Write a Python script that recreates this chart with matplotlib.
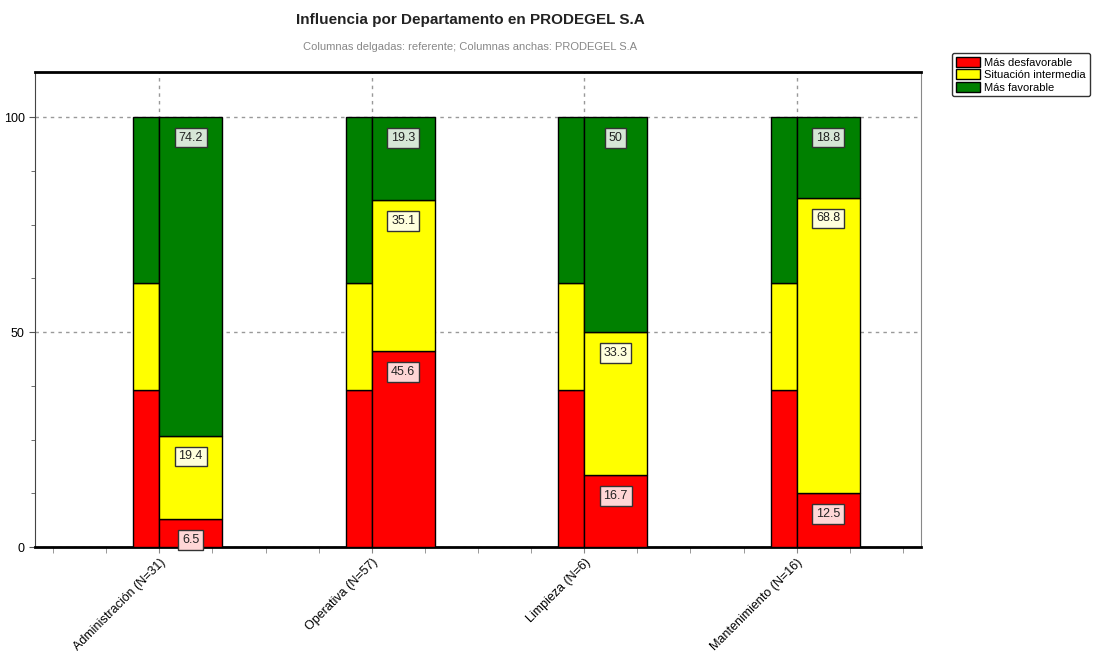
import numpy as np
import matplotlib.pyplot as plt
from matplotlib.ticker import MultipleLocator

plt.rcParams['font.family'] = ['Liberation Sans', 'DejaVu Sans']

departamentos = ['Administración (N=31)', 'Operativa (N=57)', 'Limpieza (N=6)', 'Mantenimiento (N=16)']
niveles = ['Más desfavorable', 'Situación intermedia', 'Más favorable']
colores = ['#FF0000', '#FFFF00', '#008000']
colores_etiqueta = ['#FFD6D6', '#FFFFDC', '#D6E6D6']

# columnas delgadas: referente (igual para todos)
referente = [36.5, 24.8, 38.7]
# columnas anchas: PRODEGEL S.A
desfavorable = [6.5, 45.6, 16.7, 12.5]
intermedia = [19.4, 35.1, 33.3, 68.8]
favorable = [74.2, 19.3, 50.0, 18.8]

fig = plt.figure(figsize=(10.94, 6.54), dpi=100)
ax = fig.add_axes([35 / 1094, 1 - 547 / 654, (921 - 35) / 1094, (547 - 72) / 654])

x = np.arange(len(departamentos))
w_thin = 0.122
w_wide = 0.296

# referente
bottom = np.zeros(len(x))
for i, v in enumerate(referente):
    vals = np.full(len(x), v)
    ax.bar(x - w_thin / 2, vals, w_thin, bottom=bottom, color=colores[i],
           edgecolor='black', linewidth=1, zorder=3)
    bottom += vals

# PRODEGEL
series = [desfavorable, intermedia, favorable]
bottom = np.zeros(len(x))
for i, s in enumerate(series):
    s = np.array(s)
    ax.bar(x + w_wide / 2, s, w_wide, bottom=bottom, color=colores[i],
           edgecolor='black', linewidth=1, label=niveles[i], zorder=3)
    for xi, b, v in zip(x, bottom, s):
        txt = ('%.1f' % v).rstrip('0').rstrip('.')
        ax.annotate(txt, (xi + w_wide / 2, b + v), xytext=(0, -15),
                    textcoords='offset points', ha='center', va='center',
                    fontsize=9, color='#222222', zorder=5,
                    bbox=dict(boxstyle='square,pad=0.3', fc=colores_etiqueta[i],
                              ec='#333333', lw=1))
    bottom += s

ax.set_xlim(-0.585, 3.585)
ax.set_ylim(0, 110.5)
ax.set_yticks([0, 50, 100])
ax.yaxis.set_minor_locator(MultipleLocator(12.5))
ax.set_xticks(x)
ax.xaxis.set_minor_locator(MultipleLocator(0.25))
ax.set_xticklabels(departamentos, rotation=45, ha='right', rotation_mode='anchor', fontsize=9)
ax.tick_params(axis='y', labelsize=9, length=4, color='#555555')
ax.tick_params(axis='y', which='minor', length=3, color='#555555')
ax.tick_params(axis='x', which='both', length=4, color='#888888', pad=3)
ax.grid(True, which='major', linestyle=(0, (2.5, 3)), color='#999999', linewidth=1, zorder=0)

ax.spines['top'].set_linewidth(2)
ax.spines['bottom'].set_linewidth(2)
ax.spines['left'].set_color('#444444')
ax.spines['right'].set_color('#888888')

fig.text(0.43, 1 - 20 / 654, 'Influencia por Departamento en PRODEGEL S.A', ha='center',
         va='center', fontsize=11, fontweight='bold', color='#222222')
fig.text(0.43, 1 - 47 / 654, 'Columnas delgadas: referente; Columnas anchas: PRODEGEL S.A',
         ha='center', va='center', fontsize=8, color='#888888')

leg = fig.legend(loc='upper right', bbox_to_anchor=(1090 / 1094, 1 - 53 / 654), fontsize=8,
                 frameon=True, fancybox=True, edgecolor='black', handlelength=2.2,
                 handleheight=1.0, labelspacing=0.15, borderpad=0.35, handletextpad=0.4,
                 borderaxespad=0)
leg.get_frame().set_linewidth(1)

plt.savefig('out.png', dpi=100)
